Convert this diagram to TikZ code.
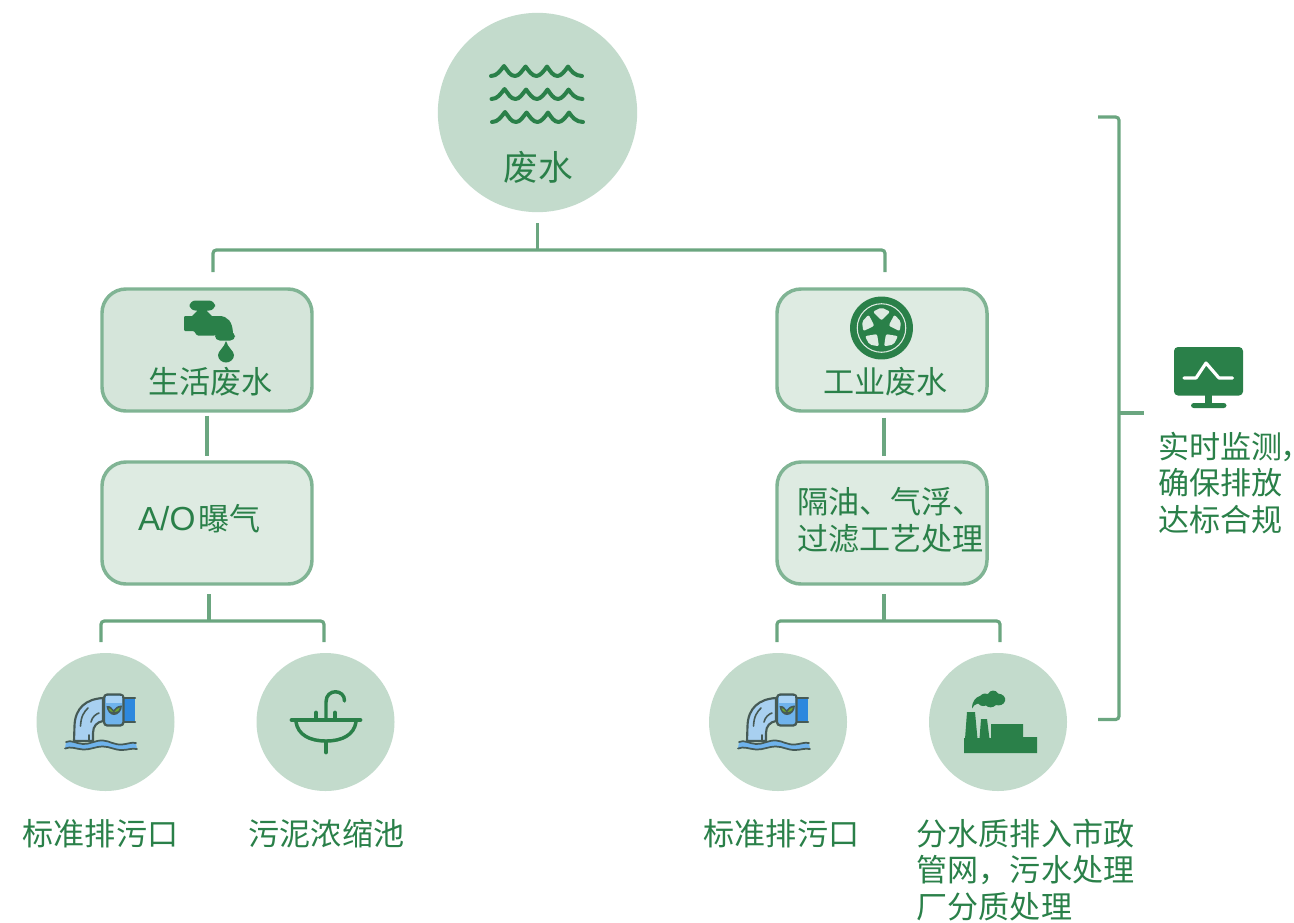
\documentclass[tikz,border=0pt]{standalone}
\usepackage{fontspec}
\setmainfont{Noto Sans CJK SC}
\newfontfamily\latinf{Liberation Sans}
\definecolor{ink}{HTML}{2A8049}
\definecolor{disc}{HTML}{C3DBCC}
\definecolor{edge}{HTML}{80B494}
\definecolor{linkc}{HTML}{6BA680}
\definecolor{fillA}{HTML}{D5E5DA}
\definecolor{fillB}{HTML}{DEEBE2}
\definecolor{pipeo}{HTML}{465A55}
\definecolor{pipel}{HTML}{A8D0F0}
\definecolor{pipem}{HTML}{6FB3EC}
\definecolor{pipet}{HTML}{A9D3F5}
\definecolor{pipeb}{HTML}{2D88DE}
\definecolor{leafc}{HTML}{6FA52E}
\tikzset{
  disk/.style={circle,fill=disc,draw=none,inner sep=0,outer sep=0},
  stage/.style={draw=edge,line width=2.6pt,rounded corners=18pt,minimum width=157.5pt,minimum height=91.5pt,inner sep=0,outer sep=0},
  conn/.style={draw=linkc,line width=2.4pt},
  brk/.style={conn,rounded corners=2.5pt},
  lab/.style={text=ink,inner sep=0,outer sep=0,font=\fontsize{23.3}{27.5}\selectfont,align=left},
  icon/.style={fill=ink,draw=none},
  iconl/.style={draw=ink,line cap=round,line join=round},
  pipeline/.style={draw=pipeo,line width=1.6pt,line join=round,line cap=round}
}
\begin{document}
\begin{tikzpicture}[x=0.75pt,y=-0.75pt]
\useasboundingbox (0,0) rectangle (1294,922);
% discs and boxes
\node[disk,minimum size=149.5pt] (root) at (537.5,112.5) {};
\node[stage,fill=fillA] (dom) at (207,350) {};
\node[stage,fill=fillB] (ao) at (207,523) {};
\node[stage,fill=fillB] (ind) at (882,350) {};
\node[stage,fill=fillB] (oil) at (882,523) {};
\node[disk,minimum size=103.5pt] (o1) at (105.5,722) {};
\node[disk,minimum size=103.5pt] (sl) at (325.5,722) {};
\node[disk,minimum size=103.5pt] (o2) at (778,722) {};
\node[disk,minimum size=103.5pt] (fc) at (998,722) {};
% labels
\node[lab,font=\fontsize{26}{30}\selectfont] (t0) at (538,167) {废水};
\node[lab] (t1) at (210.5,382) {生活废水};
\node[lab] (t2) at (885.5,382) {工业废水};
\node[lab,anchor=west] (t3) at (138,519) {{\latinf\fontsize{25}{27.5}\selectfont A/O}\kern2pt曝气};
\node[lab] (t4) at (890.5,520) {隔油、气浮、\\过滤工艺处理};
\node[lab] (t5) at (100.5,834) {标准排污口};
\node[lab] (t6) at (326.5,834) {污泥浓缩池};
\node[lab] (t7) at (781.5,834) {标准排污口};
\node[lab] (t8) at (1025.5,870) {分水质排入市政\\管网，污水处理\\厂分质处理};
\node[lab,anchor=west] (t9) at (1158,483) {实时监测{\addfontfeature{RawFeature=+palt}，}\\确保排放\\达标合规};
% connectors
\coordinate (bus0) at (537.5,250);
\coordinate (d0l) at (213,272);
\coordinate (d0r) at (885,272);
\draw[conn,shorten <=8.25pt] (root.south) -- (bus0);
\draw[brk] (d0l) |- (bus0) -| (d0r);
\draw[conn,shorten <=3.5pt,shorten >=4.5pt] (dom.south) -- (ao.north);
\draw[conn,shorten <=5pt,shorten >=4.5pt] ([xshift=1.5pt]ind.south) -- ([xshift=1.5pt]oil.north);
\coordinate (bus1) at (209,621);
\coordinate (d1l) at (101,642);
\coordinate (d1r) at (324,642);
\draw[conn,shorten <=7.5pt] ([xshift=1.5pt]ao.south) -- (bus1);
\draw[brk] (d1l) |- (bus1) -| (d1r);
\coordinate (bus2) at (884,621);
\coordinate (d2l) at (777,642);
\coordinate (d2r) at (1000,642);
\draw[conn,shorten <=7.5pt] ([xshift=1.5pt]oil.south) -- (bus2);
\draw[brk] (d2l) |- (bus2) -| (d2r);
\coordinate (bt) at (1098,117);
\coordinate (bb) at (1098,719.5);
\coordinate (bs) at (1119,413);
\coordinate (bm) at (1144,413);
\draw[brk] (bt) -| (bs) |- (bb);
\draw[conn] (bs) -- (bm);
% waves
\foreach \yy/\xx in {0/0,23/0.5,46/1}{
  \begin{scope}[shift={(\xx,\yy)}]
  \draw[iconl,line width=3pt] (491,76) .. controls (497,76) and (500,71) .. (504,66)
    .. controls (508,71) and (510,76) .. (515,76) .. controls (519,76) and (522,71) .. (525.5,66.5)
    .. controls (529,71) and (532,76) .. (536.5,76) .. controls (540,76) and (544,71) .. (547,66.5)
    .. controls (550,71) and (553,76) .. (557.5,76) .. controls (561,76) and (565,71) .. (568,66.5)
    .. controls (571,71) and (575,76) .. (582,76);
  \end{scope}}
% faucet
\fill[icon,rounded corners=4.5pt] (189.5,300.5) rectangle (215,310.5);
\fill[icon] (197,308) -- (207,308) -- (207,311) -- (213,317) -- (191,317) -- (197,311) -- cycle;
\fill[icon,rounded corners=0.8pt] (184,316) -- (218,316) .. controls (228,316) and (232.5,322) .. (233,334) -- (215,335.5) -- (197,335.5) -- (194,331) -- (184,331) -- cycle;
\fill[icon,rounded corners=3.5pt] (215,332) rectangle (235,340.5);
\fill[icon] (226,341) .. controls (228,348) and (234,351) .. (234,355) .. controls (234,359.5) and (230,362.5) .. (226,362.5) .. controls (222,362.5) and (218,359.5) .. (218,355) .. controls (218,351) and (224,348) .. (226,341) -- cycle;
% wheel
\fill[icon] (881.5,328) circle[radius=23.6pt];
\draw[fillB,line width=0.8pt] (881.5,328) circle[radius=18.2pt];
\begin{scope}[shift={(881.5,328)}]
\foreach \a in {270,342,54,126,198}{
  \fill[fillB,rounded corners=1.5pt] (\a:7.5) -- (\a+28:18.5) -- (\a:20.5) -- (\a-28:18.5) -- cycle;
}
\end{scope}
% monitor
\fill[icon,rounded corners=3pt] (1174,347) rectangle (1243,395.5);
\fill[icon] (1205,395) rectangle (1212,404);
\fill[icon,rounded corners=2pt] (1191,403) rectangle (1226.5,408);
\draw[white,line width=2.4pt,line cap=round,line join=round] (1184,378) -- (1196,378) -- (1206,363) -- (1219,378) -- (1232.5,378);
% pipes
\foreach \s in {0,673}{
\begin{scope}[shift={(\s,0)}]
  \fill[pipeb] (124,698) rectangle (135,722);
  \draw[pipeline] (124,698) -- (135,698) (124,722) -- (135,722);
  \draw[pipeline,fill=pipel] (103,698) .. controls (86,699) and (75,708) .. (74.5,726) -- (74,741) -- (93,741) -- (93,733) .. controls (93,726) and (97,722) .. (103,721) -- cycle;
  \draw[pipeline,line width=1.2pt] (88,708) .. controls (84,712) and (81,716) .. (80.5,726);
  \draw[pipeline,line width=1.2pt] (99,713) .. controls (96,714) and (92,717) .. (91,722);
  \draw[pipeline,line width=1.2pt] (89,735) -- (89,741);
  \fill[pipem,draw=pipeo,line width=1.7pt,rounded corners=2.5pt] (104,694.5) rectangle (123.5,725.5);
  \fill[pipet] (105.5,696) rectangle (122,703);
  \fill[pipeo] (106.5,706) .. controls (110,705.5) and (112,707.5) .. (113.5,710) .. controls (115,707.5) and (118,705.5) .. (122,705.5) .. controls (122,711) and (118,715) .. (114,715) .. controls (110,715) and (107,711) .. (106.5,706) -- cycle;
  \fill[leafc] (108.5,708) .. controls (110,708) and (112,710) .. (113,712) .. controls (110.5,712.5) and (109,710.5) .. (108.5,708) -- cycle;
  \fill[leafc] (120,707.5) .. controls (118,708) and (115.5,709.5) .. (114.5,712) .. controls (117.5,712.5) and (119.5,710.5) .. (120,707.5) -- cycle;
  \fill[pipem] (66,742) .. controls (71,739.5) and (76,743.5) .. (83,744) .. controls (90,744.5) and (95,740) .. (103,740.5) .. controls (110,741) and (114,745) .. (122,744.5) .. controls (128,744) and (131,742) .. (136,743)
    -- (137,749) .. controls (131,748) and (128,750) .. (122,750) .. controls (114,750) and (110,746.5) .. (103,746.5) .. controls (95,746.5) and (90,750) .. (83,749.5) .. controls (76,749) and (71,746) .. (65,748.5) -- cycle;
  \draw[pipeline,line width=1.3pt] (66,742) .. controls (71,739.5) and (76,743.5) .. (83,744) .. controls (90,744.5) and (95,740) .. (103,740.5) .. controls (110,741) and (114,745) .. (122,744.5) .. controls (128,744) and (131,742) .. (136,743);
  \draw[pipeline,line width=1.3pt] (65,748.5) .. controls (71,746) and (76,749) .. (83,749.5) .. controls (90,750) and (95,746.5) .. (103,746.5) .. controls (110,746.5) and (114,750) .. (122,750) .. controls (128,750) and (131,748) .. (137,749);
\end{scope}}
% sink
\draw[iconl,line width=3.6pt] (292,720) -- (360,720);
\draw[iconl,line width=2.6pt] (296,722) .. controls (298,735) and (310,741) .. (326,741) .. controls (342,741) and (354,735) .. (356,722);
\draw[iconl,line width=3.6pt] (326,742) -- (326,752);
\draw[iconl,line width=3.6pt] (316,713) -- (316,719);
\draw[iconl,line width=3.6pt] (335,713) -- (335,719);
\draw[iconl,line width=2.6pt] (326,719) -- (326,702) .. controls (326,688) and (345,689) .. (344.5,701);
% factory
\fill[icon] (964,738) -- (991,738) -- (991,724) -- (1023,724) -- (1023,737) -- (1037,737) -- (1037,753) -- (964,753) -- cycle;
\fill[icon] (967,712) -- (975,712) -- (977.5,739) -- (965,739) -- cycle;
\fill[icon] (981,719) -- (987,719) -- (989.5,739) -- (979.5,739) -- cycle;
\fill[icon] (972,708.5) .. controls (972,701) and (976,697) .. (980,696) .. controls (983,693) and (986,693) .. (988,694) .. controls (990,689.5) and (996,689.5) .. (998,693.5) .. controls (1003,694) and (1006,697) .. (1005,701) .. controls (1004,705) and (999,706) .. (996,705) .. controls (993,708) and (988,708) .. (986,705.5) .. controls (982,707) and (979,705) .. (978,703.5) .. controls (975,704) and (973,706) .. (972,708.5) -- cycle;
\end{tikzpicture}
\end{document}
